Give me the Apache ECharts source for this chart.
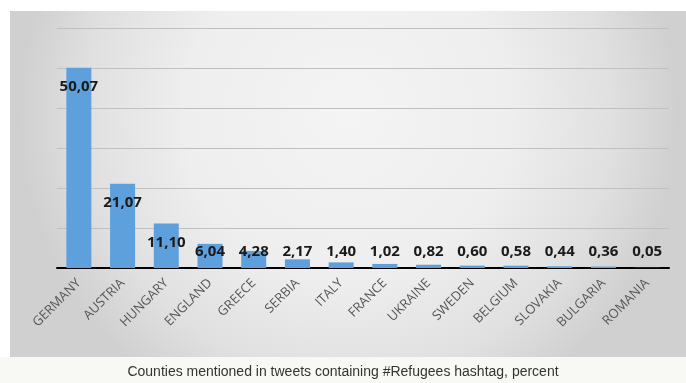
<!DOCTYPE html>
<html>
<head>
<meta charset="utf-8">
<script src="https://cdn.jsdelivr.net/npm/echarts@6/dist/echarts.min.js"></script>
<style>
html,body{margin:0;padding:0;background:#ffffff;}
#chart{width:686px;height:383px;}
</style>
</head>
<body>
<div id="chart"></div>
<script>
var categories = ['GERMANY','AUSTRIA','HUNGARY','ENGLAND','GREECE','SERBIA','ITALY','FRANCE','UKRAINE','SWEDEN','BELGIUM','SLOVAKIA','BULGARIA','ROMANIA'];
var values = [50.07, 21.07, 11.10, 6.04, 4.28, 2.17, 1.40, 1.02, 0.82, 0.60, 0.58, 0.44, 0.36, 0.05];
var caption = 'Counties mentioned in tweets containing #Refugees hashtag, percent';

var chart = echarts.init(document.getElementById('chart'), null, {renderer:'canvas'});
var data = values.map(function(v){
  var big = v >= 10;
  return {
    value: v,
    label: {
      position: big ? 'insideTop' : 'insideBottom',
      distance: big ? 12 : 9
    }
  };
});
chart.setOption({
  animation: false,
  backgroundColor: '#ffffff',
  graphic: [
    {type:'rect', shape:{x:0,y:357,width:686,height:26}, style:{fill:'#f8f8f4'}, z:-10, silent:true},
    {type:'rect', shape:{x:10,y:11,width:676,height:346}, z:-10, silent:true,
     style:{fill:{type:'radial', x:0.5, y:0.3, r:0.95, colorStops:[
       {offset:0,color:'#f4f4f4'},{offset:0.5,color:'#eeeeee'},{offset:0.8,color:'#e0e0e0'},{offset:1,color:'#d0d0d0'}]}}}
  ],
  title: {
    text: caption,
    left: 'center', top: 360,
    textStyle: {fontFamily:'Liberation Sans', fontSize:14, fontWeight:'normal', color:'#333333'}
  },
  grid: {left:57, right:17, top:28, bottom:115},
  xAxis: {
    type:'category', data: categories,
    axisLine:{show:true, lineStyle:{color:'#000000', width:2}},
    axisTick:{show:false},
    axisLabel:{rotate:45, color:'#555555', fontFamily:'Open Sans', fontSize:13, margin:13, interval:0}
  },
  yAxis: {
    type:'value', min:0, max:60, interval:10,
    axisLabel:{show:false}, axisLine:{show:false}, axisTick:{show:false},
    splitLine:{lineStyle:{color:'#c0c0c0', width:1}}
  },
  series: [{
    type:'bar', data: data, barWidth: 25,
    itemStyle:{color:'#5da0dc'},
    label:{show:true, color:'#1a1a1a', fontFamily:'Open Sans', fontWeight:'bold', fontSize:15,
      formatter:function(p){return p.value.toFixed(2).replace('.', ',');}}
  }]
});
</script>
</body>
</html>
